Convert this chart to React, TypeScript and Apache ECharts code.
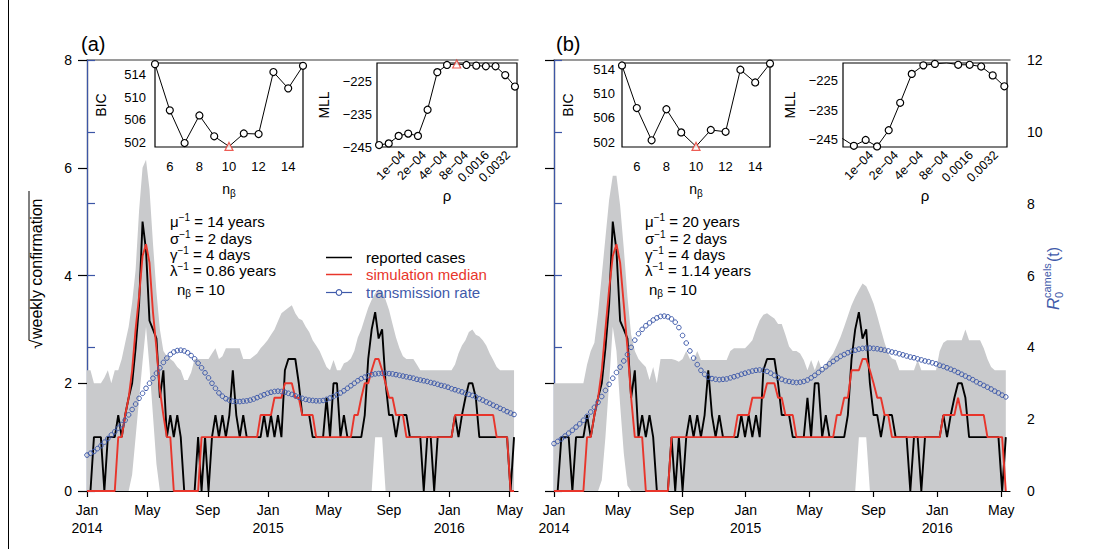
import React, { useEffect, useRef } from "react";
import * as echarts from "echarts";

const FONT = '"Liberation Sans", Arial, Helvetica, sans-serif';
const BLACK = "#000000";
const RED = "#e8352b";
const BLUE = "#3f5aaa";
const BLUE_AXIS = "#3c56a6";
const GRAY = "#c9cacc";

// ---- time axis (months since Jan 2014) ----
const monthTicks = [0, 4, 8, 12, 16, 20, 24, 28];
const monthLabels = ["Jan\n2014", "May", "Sep", "Jan\n2015", "May", "Sep", "Jan\n2016", "May"];

// ---- weekly series (sqrt of weekly confirmations), week 0 = first week of Jan 2014 ----
const reported = [
  0, 0, 1, 1, 1, 0, 1, 1, 1, 1.41,
  1, 1.41, 1.73, 2, 2.65, 3.46, 5, 4.47, 3.16, 3,
  2.83, 1.73, 2.24, 1, 1.41, 1, 1.41, 1, 0, 0,
  0, 0, 1, 0, 1, 0, 1, 1.41, 1, 1.41,
  1, 1.41, 2.24, 1.41, 1, 1.41, 1, 1, 1, 1,
  1, 1.41, 1, 1.41, 1, 1.41, 1, 2.24, 2.45, 2.45,
  2.45, 2, 1.41, 1.41, 1.41, 1, 1, 1, 1, 1.73,
  1, 2, 2, 1, 1.41, 1, 1, 1, 1, 1,
  1.41, 2.45, 3, 3.32, 2.83, 3, 2, 1.41, 1.41, 1,
  1.41, 1.41, 1.41, 1, 1, 1, 1, 0, 1, 1,
  0, 1, 1, 1, 1, 1, 1.41, 1, 1.41, 1.73,
  2, 2, 1.73, 1, 1, 1, 1, 1, 1, 1,
  1, 1, 0, 1,
];

const medianA = [
  0, 0, 0, 0, 0, 0, 0, 0, 0, 1,
  1, 1.41, 1.73, 2.24, 3, 3.61, 4.36, 4.58, 4.24, 3.32,
  2.65, 1.87, 1.41, 1, 1, 0, 0, 0, 0, 0,
  0, 0, 0, 1, 1, 1, 1, 1, 1, 1,
  1, 1, 1, 1, 1, 1, 1, 1, 1, 1,
  1.41, 1.41, 1.41, 1.41, 1.73, 1.73, 1.73, 2, 2, 2,
  1.73, 1.73, 1.41, 1.41, 1.41, 1.41, 1, 1, 1, 1,
  1, 1, 1, 1, 1, 1, 1, 1.41, 1.41, 1.73,
  2, 2, 2.24, 2.45, 2.45, 2.24, 2, 1.73, 1.73, 1.41,
  1.41, 1.41, 1, 1, 1, 1, 1, 1, 1, 1,
  1, 1, 1, 1, 1, 1, 1.41, 1.41, 1.41, 1.41,
  1.41, 1.41, 1.41, 1.41, 1.41, 1.41, 1.41, 1.41, 1, 1,
  1, 1, 0, 0,
];

const medianB = [
  0, 0, 0, 0, 0, 0, 0, 0, 0, 1,
  1, 1.41, 1.73, 2.24, 3, 3.74, 4.36, 4.58, 4.24, 3.46,
  2.65, 1.73, 1, 1, 1, 0, 0, 0, 0, 0,
  0, 0, 1, 1, 1, 1, 1, 1, 1, 1,
  1, 1, 1, 1, 1, 1, 1, 1, 1, 1,
  1.41, 1.41, 1.41, 1.41, 1.73, 1.73, 1.73, 1.73, 2, 2,
  2, 1.73, 1.73, 1.41, 1.41, 1.41, 1, 1, 1, 1,
  1, 1, 1, 1, 1, 1, 1, 1.41, 1.41, 1.73,
  1.73, 2.24, 2.24, 2.24, 2.45, 2.45, 2.24, 2, 1.73, 1.73,
  1.41, 1.41, 1, 1, 1, 1, 1, 1, 1, 1,
  1, 1, 1, 1, 1, 1, 1.41, 1.41, 1.41, 1.41,
  1.73, 1.41, 1.41, 1.41, 1.41, 1.41, 1.41, 1.41, 1, 1,
  1, 1, 1, 0,
];

const upperA = [
  2.24, 2.24, 2, 2, 2, 2.1, 2.24, 2, 2.24, 2.24,
  2.45, 2.75, 3.05, 3.5, 4.1, 5.2, 6.0, 6.15, 5.6, 4.6,
  3.7, 3.0, 2.6, 2.5, 2.45, 2.4, 2.3, 2.24, 2.06, 2.06,
  2.2, 2.45, 2.45, 2.45, 2.45, 2.45, 2.55, 2.65, 2.45, 2.5,
  2.65, 2.65, 2.65, 2.65, 2.65, 2.45, 2.45, 2.45, 2.5, 2.55,
  2.65, 2.72, 2.8, 2.9, 3.0, 3.15, 3.3, 3.35, 3.4, 3.45,
  3.3, 3.2, 3.17, 3.05, 2.95, 2.8, 2.7, 2.6, 2.45, 2.3,
  2.24, 2.43, 2.24, 2.24, 2.37, 2.4, 2.46, 2.6, 2.85, 3.0,
  3.2, 3.4, 3.55, 3.67, 3.74, 3.7, 3.55, 3.36, 3.1, 2.85,
  2.65, 2.5, 2.45, 2.45, 2.45, 2.35, 2.24, 2.24, 2.24, 2.24,
  2.24, 2.24, 2.24, 2.24, 2.24, 2.24, 2.35, 2.55, 2.7, 2.8,
  2.95, 3.0, 2.9, 2.87, 2.8, 2.7, 2.55, 2.43, 2.3, 2.24,
  2.24, 2.24, 2.24, 2.24,
];

const lowerA = [
  0, 0, 0, 0, 0, 0, 0, 0, 0, 0,
  0, 0, 0, 0.3, 1.0, 1.7, 2.4, 3.05, 2.3, 1.4,
  0.5, 0, 0, 0, 0, 0, 0, 0, 0, 0,
  0, 0, 0, 0, 0, 0, 0, 0, 0, 0,
  0, 0, 0, 0, 0, 0, 0, 0, 0, 0,
  0, 0, 0, 0, 0, 0, 0, 0, 0, 0,
  0, 0, 0, 0, 0, 0, 0, 0, 0, 0,
  0, 0, 0, 0, 0, 0, 0, 0, 0, 0,
  0, 0, 0, 1, 1, 1, 0, 0, 0, 0,
  0, 0, 0, 0, 0, 0, 0, 0, 0, 0,
  0, 0, 0, 0, 0, 0, 0, 0, 0, 0,
  0, 0, 0, 0, 0, 0, 0, 0, 0, 0,
  0, 0, 0, 0,
];

const upperB = [
  2, 2, 2, 2, 2, 2, 2, 2, 2, 2.35,
  2.6, 2.75, 3.3, 4.0, 4.7, 5.4, 5.85, 5.85, 5.3, 4.5,
  3.6, 2.9, 2.6, 2.45, 2.37, 2.3, 2.06, 2.3, 2.0, 2.45,
  2.45, 2.45, 2.45, 2.43, 2.4, 2.45, 2.6, 2.45, 2.43, 2.6,
  2.43, 2.43, 2.43, 2.43, 2.43, 2.43, 2.43, 2.43, 2.6, 2.65,
  2.65, 2.65, 2.65, 2.72, 2.8, 3.0, 3.17, 3.27, 3.3, 3.25,
  3.2, 3.1, 3.1, 2.9, 2.68, 2.6, 2.6, 2.55, 2.43, 2.24,
  2.43, 2.24, 2.43, 2.24, 2.35, 2.46, 2.55, 2.7, 2.86, 3.05,
  3.25, 3.45, 3.6, 3.73, 3.85, 3.8, 3.65, 3.48, 3.25, 3.0,
  2.75, 2.55, 2.46, 2.43, 2.24, 2.24, 2.24, 2.24, 2.24, 2.43,
  2.24, 2.24, 2.24, 2.24, 2.24, 2.6, 2.75, 2.8, 2.8, 2.8,
  2.8, 2.8, 3.0, 2.8, 2.8, 2.8, 2.8, 2.65, 2.45, 2.3,
  2.24, 2.24, 2.24, 2.24,
];

const lowerB = [
  0, 0, 0, 0, 0, 0, 0, 0, 0, 0,
  0, 0, 0, 0.2, 1.0, 2.0, 3.05, 2.6, 1.6, 0.7,
  0.1, 0, 0, 0, 0, 0, 0, 0, 0, 0,
  0, 0, 0, 0, 0, 0, 0, 0, 0, 0,
  0, 0, 0, 0, 0, 0, 0, 0, 0, 0,
  0, 0, 0, 0, 0, 0, 0, 0, 0, 0,
  0, 0, 0, 0, 0, 0, 0, 0, 0, 0,
  0, 0, 0, 0, 0, 0, 0, 0, 0, 0,
  0, 0, 0, 1, 1, 1, 0, 0, 0, 0,
  0, 0, 0, 0, 0, 0, 0, 0, 0, 0,
  0, 0, 0, 0, 0, 0, 0, 0, 0, 0,
  0, 0, 0, 0, 0, 0, 0, 0, 0, 0,
  0, 0, 0, 0,
];

// transmission rate R0(t), right axis
const rateA = [
  1.0, 1.05, 1.1, 1.18, 1.26, 1.36, 1.46, 1.56, 1.65, 1.75,
  1.85, 1.97, 2.12, 2.27, 2.42, 2.58, 2.72, 2.86, 3.0, 3.14,
  3.28, 3.43, 3.58, 3.7, 3.8, 3.87, 3.91, 3.92, 3.9, 3.85,
  3.77, 3.68, 3.56, 3.43, 3.29, 3.15, 3.0, 2.86, 2.73, 2.64,
  2.57, 2.53, 2.5, 2.49, 2.49, 2.5, 2.51, 2.53, 2.56, 2.6,
  2.64, 2.68, 2.72, 2.75, 2.77, 2.78, 2.77, 2.75, 2.72, 2.69,
  2.65, 2.61, 2.58, 2.55, 2.53, 2.52, 2.51, 2.51, 2.52, 2.55,
  2.59, 2.63, 2.68, 2.73, 2.79, 2.86, 2.93, 3.0, 3.07, 3.13,
  3.17, 3.21, 3.24, 3.26, 3.27, 3.28, 3.28, 3.27, 3.26, 3.24,
  3.22, 3.2, 3.18, 3.16, 3.14, 3.11, 3.09, 3.07, 3.05, 3.02,
  3.0, 2.97, 2.94, 2.92, 2.89, 2.85, 2.82, 2.79, 2.76, 2.72,
  2.69, 2.66, 2.62, 2.57, 2.53, 2.48, 2.44, 2.39, 2.35, 2.3,
  2.26, 2.21, 2.17, 2.13,
];

const rateB = [
  1.32, 1.38, 1.45, 1.53, 1.61, 1.69, 1.78, 1.87, 1.97, 2.08,
  2.2, 2.33, 2.47, 2.63, 2.8, 2.97, 3.14, 3.3, 3.45, 3.62,
  3.8, 4.0, 4.2, 4.38, 4.5, 4.6, 4.68, 4.76, 4.82, 4.86,
  4.87, 4.85, 4.79, 4.7, 4.55, 4.33, 4.12, 3.9, 3.7, 3.52,
  3.36, 3.25, 3.17, 3.13, 3.11, 3.1, 3.11, 3.12, 3.15, 3.18,
  3.21, 3.25, 3.28, 3.31, 3.34, 3.36, 3.37, 3.36, 3.33, 3.28,
  3.22, 3.16, 3.11, 3.07, 3.05, 3.03, 3.02, 3.03, 3.05, 3.09,
  3.15, 3.22, 3.3, 3.38, 3.46, 3.54, 3.61, 3.68, 3.75, 3.8,
  3.85, 3.89, 3.92, 3.95, 3.97, 3.98, 3.98, 3.97, 3.96, 3.94,
  3.92, 3.9, 3.87, 3.85, 3.82, 3.79, 3.76, 3.73, 3.71, 3.68,
  3.65, 3.62, 3.6, 3.57, 3.54, 3.5, 3.47, 3.43, 3.39, 3.35,
  3.3, 3.25, 3.2, 3.15, 3.1, 3.04, 2.99, 2.94, 2.89, 2.84,
  2.78, 2.73, 2.67, 2.62,
];

// ---- insets ----
const nBeta = [5, 6, 7, 8, 9, 10, 11, 12, 13, 14, 15];
const bicA = [515.9, 507.7, 501.9, 506.8, 503.1, 501.3, 503.6, 503.5, 514.5, 511.6, 515.6];
const bicB = [514.6, 507.6, 502.3, 507.4, 503.6, 501.3, 504.0, 503.7, 513.9, 511.8, 514.9];
const bicTicks = [502, 506, 510, 514];
const nBetaTicks = [6, 8, 10, 12, 14];
const bestNBetaIdx = 5;

const rho = [4.5e-5, 6.2e-5, 8.6e-5, 1.18e-4, 1.63e-4, 2.24e-4, 3.09e-4, 4.26e-4, 5.87e-4, 8.1e-4, 1.12e-3, 1.54e-3, 2.12e-3, 2.92e-3, 4.03e-3];
const mllA = [-244.4, -243.9, -241.6, -240.9, -241.6, -233.6, -222.1, -219.9, -219.6, -219.9, -220.1, -220.3, -220.3, -223.0, -226.5];
const mllB = [-244.6, -247.1, -245.1, -247.3, -241.8, -232.5, -222.7, -219.8, -219.3, -218.9, -219.6, -219.6, -220.2, -223.2, -226.9];
const bestRhoIdxA = 8;
const bestRhoIdxB = 9;
const rhoTickLabels = ["1e\u221204", "2e\u221204", "4e\u221204", "8e\u221204", "0.0016", "0.0032"];
const mllTicks = [-245, -235, -225];

// ---- annotation text ----
const paramSymbols = ["\u03bc", "\u03c3", "\u03b3", "\u03bb"];
const paramValuesA = ["14 years", "2 days", "4 days", "0.86 years"];
const paramValuesB = ["20 years", "2 days", "4 days", "1.14 years"];
const chosenNBeta = 10;
const legendNames = ["reported cases", "simulation median", "transmission rate"];

const DAYS_PER_MONTH = 30.4375;
const wk = (i: number) => (i * 7) / DAYS_PER_MONTH;
const pts = (arr: number[]) => arr.map((v, i) => [wk(i), v]);
const rhoX = (r: number) => Math.log2(r / 1e-4);
const near = (v: number, list: number[]) => list.findIndex((t) => Math.abs(t - v) < 1e-6);

function mainAxes(gridIndex: number, showLeftLabels: boolean, showRightLabels: boolean) {
  const x = [
    {
      gridIndex,
      type: "value",
      min: 0,
      max: 28.55,
      position: "bottom",
      axisLine: { show: true, onZero: false, lineStyle: { color: BLACK, width: 1.2 } },
      axisTick: { show: true, length: 6, customValues: monthTicks, lineStyle: { color: BLACK, width: 1.2 } },
      axisLabel: {
        customValues: monthTicks,
        fontSize: 14,
        lineHeight: 18,
        color: BLACK,
        margin: 10,
        fontFamily: FONT,
        formatter: (v: number) => monthLabels[Math.round(v / 4)] ?? "",
      },
      splitLine: { show: false },
    },
    {
      gridIndex,
      type: "value",
      min: 0,
      max: 28.55,
      position: "top",
      axisLine: { show: true, onZero: false, lineStyle: { color: "#7a7a7a", width: 1.5 } },
      axisTick: { show: false },
      axisLabel: { show: false },
      splitLine: { show: false },
    },
  ];
  const y = [
    {
      gridIndex,
      type: "value",
      min: 0,
      max: 8,
      interval: 2,
      position: "left",
      axisLine: { show: true, lineStyle: { color: BLACK, width: 1.2 } },
      axisTick: { show: true, length: 9, lineStyle: { color: BLACK, width: 1.2 } },
      axisLabel: { show: showLeftLabels, fontSize: 14, color: BLACK, margin: 15, fontFamily: FONT },
      splitLine: { show: false },
    },
    {
      gridIndex,
      type: "value",
      min: 0,
      max: 12,
      interval: 2,
      position: "right",
      axisLine: { show: true, lineStyle: { color: BLUE_AXIS, width: 1.2 } },
      axisTick: { show: true, length: 8, lineStyle: { color: BLUE_AXIS, width: 1.2 } },
      axisLabel: { show: showRightLabels, fontSize: 14, color: BLACK, margin: 17, fontFamily: FONT },
      splitLine: { show: false },
    },
  ];
  return { x, y };
}

function bandSeries(xi: number, yi: number, upper: number[], lower: number[]) {
  return {
    type: "custom",
    xAxisIndex: xi,
    yAxisIndex: yi,
    data: upper.map((v, i) => [wk(i), v, lower[i]]),
    encode: { x: 0, y: [1, 2] },
    clip: true,
    silent: true,
    z: 1,
    renderItem: (params: any, api: any) => {
      if (params.dataIndex !== 0) return null;
      const top = upper.map((v, i) => api.coord([wk(i), v]));
      const bottom = lower.map((v, i) => api.coord([wk(i), v])).reverse();
      return {
        type: "polygon",
        shape: { points: top.concat(bottom) },
        style: { fill: GRAY, stroke: "none" },
      };
    },
  };
}

function mainSeries(xi: number, yl: number, yr: number, median: number[], upper: number[], lower: number[], rate: number[]) {
  return [
    bandSeries(xi, yl, upper, lower),
    {
      name: legendNames[0],
      type: "line",
      xAxisIndex: xi,
      yAxisIndex: yl,
      data: pts(reported),
      symbol: "none",
      lineStyle: { color: BLACK, width: 1.9 },
      itemStyle: { color: BLACK },
      silent: true,
      z: 2,
    },
    {
      name: legendNames[1],
      type: "line",
      xAxisIndex: xi,
      yAxisIndex: yl,
      data: pts(median),
      symbol: "none",
      lineStyle: { color: RED, width: 1.9 },
      itemStyle: { color: RED },
      silent: true,
      z: 3,
    },
    {
      name: legendNames[2],
      type: "line",
      xAxisIndex: xi,
      yAxisIndex: yr,
      data: pts(rate),
      symbol: "circle",
      symbolSize: 4.6,
      showSymbol: true,
      lineStyle: { opacity: 0, width: 0, color: BLUE },
      itemStyle: { color: "rgba(255,255,255,0)", borderColor: BLUE, borderWidth: 1 },
      silent: true,
      z: 4,
    },
  ];
}

function insetGrid(left: number, width: number) {
  return { left, top: 63, width, height: 84, show: true, borderColor: BLACK, borderWidth: 1.2, backgroundColor: "rgba(0,0,0,0)" };
}

const nameRich = {
  n: { fontSize: 14, lineHeight: 18, fontFamily: FONT, color: BLACK },
  b: { fontSize: 10, lineHeight: 10, verticalAlign: "bottom", fontFamily: FONT, color: BLACK },
};

function bicAxes(gridIndex: number, ymin: number, ymax: number, ymargin: number) {
  return {
    x: {
      gridIndex,
      type: "value",
      min: 5,
      max: 15,
      interval: 1,
      axisLine: { show: false },
      axisTick: { show: false },
      axisLabel: {
        interval: 0,
        hideOverlap: false,
        showMinLabel: true,
        showMaxLabel: true,
        fontSize: 13,
        color: BLACK,
        margin: 13,
        fontFamily: FONT,
        formatter: (v: number) => (near(v, nBetaTicks) >= 0 ? String(Math.round(v)) : ""),
      },
      splitLine: { show: false },
      name: "{n|n}{b|\u03b2}",
      nameLocation: "middle",
      nameGap: 33,
      nameTextStyle: { rich: nameRich },
    },
    y: {
      gridIndex,
      type: "value",
      min: ymin,
      max: ymax,
      axisLine: { show: false },
      axisTick: { show: false },
      axisLabel: { customValues: bicTicks, fontSize: 13, color: BLACK, margin: ymargin, fontFamily: FONT },
      splitLine: { show: false },
      name: "BIC",
      nameLocation: "middle",
      nameRotate: 90,
      nameGap: 47,
      nameTextStyle: { fontSize: 14, color: BLACK, fontFamily: FONT },
    },
  };
}

function mllAxes(gridIndex: number, xmin: number, xstep: number, xmax: number, ymin: number, ystep: number, ymax: number) {
  return {
    x: {
      gridIndex,
      type: "value",
      min: xmin,
      max: xmax,
      interval: xstep,
      axisLine: { show: false },
      axisTick: { show: false },
      axisLabel: {
        interval: 0,
        hideOverlap: false,
        rotate: 45,
        fontSize: 12.5,
        color: BLACK,
        margin: 6,
        fontFamily: FONT,
        formatter: (v: number) => {
          const r = Math.round(v);
          return Math.abs(v - r) < 1e-6 ? rhoTickLabels[r] ?? "" : "";
        },
      },
      splitLine: { show: false },
      name: "\u03c1",
      nameLocation: "middle",
      nameGap: 34,
      nameTextStyle: { fontSize: 15, color: BLACK, fontFamily: FONT },
    },
    y: {
      gridIndex,
      type: "value",
      min: ymin,
      max: ymax,
      interval: ystep,
      axisLine: { show: false },
      axisTick: { show: false },
      axisLabel: {
        interval: 0,
        hideOverlap: false,
        showMinLabel: true,
        fontSize: 13,
        color: BLACK,
        margin: 5,
        fontFamily: FONT,
        formatter: (v: number) => (near(v, mllTicks) >= 0 ? String(Math.round(v)).replace("-", "\u2212") : ""),
      },
      splitLine: { show: false },
      name: "MLL",
      nameLocation: "middle",
      nameRotate: 90,
      nameGap: 46,
      nameTextStyle: { fontSize: 14, color: BLACK, fontFamily: FONT },
    },
  };
}

function insetSeries(xi: number, yi: number, xs: number[], ys: number[], bestIdx: number) {
  return [
    {
      type: "line",
      xAxisIndex: xi,
      yAxisIndex: yi,
      data: xs.map((x, i) => (i === bestIdx ? { value: [x, ys[i]], symbol: "none" } : { value: [x, ys[i]] })),
      symbol: "circle",
      symbolSize: 7,
      showSymbol: true,
      lineStyle: { color: BLACK, width: 1 },
      itemStyle: { color: "#ffffff", borderColor: BLACK, borderWidth: 1.2 },
      silent: true,
      z: 5,
    },
    {
      type: "scatter",
      xAxisIndex: xi,
      yAxisIndex: yi,
      data: [[xs[bestIdx], ys[bestIdx]]],
      symbol: "triangle",
      symbolSize: 8,
      itemStyle: { color: "#ffffff", borderColor: RED, borderWidth: 1.2 },
      silent: true,
      z: 6,
    },
  ];
}

const paramRich = {
  m: { fontSize: 15, lineHeight: 18, fontFamily: FONT, fill: BLACK, color: BLACK },
  s: { fontSize: 10, lineHeight: 10, verticalAlign: "top", fontFamily: FONT, fill: BLACK, color: BLACK },
  b: { fontSize: 10, lineHeight: 10, verticalAlign: "bottom", fontFamily: FONT, fill: BLACK, color: BLACK },
};

function paramTexts(x: number, xn: number, values: string[]) {
  const rows = [221.5, 238, 254, 270];
  const els: any[] = values.map((val, i) => ({
    type: "text",
    x,
    y: rows[i],
    silent: true,
    z: 50,
    style: {
      text: `{m|${paramSymbols[i]}}{s|\u22121}{m| = ${val}}`,
      rich: paramRich,
      fill: BLACK,
      fontSize: 15,
      fontFamily: FONT,
      verticalAlign: "middle",
      align: "left",
    },
  }));
  els.push({
    type: "text",
    x: xn,
    y: 289,
    silent: true,
    z: 50,
    style: {
      text: `{m|n}{b|\u03b2}{m| = ${chosenNBeta}}`,
      rich: paramRich,
      fill: BLACK,
      fontSize: 15,
      fontFamily: FONT,
      verticalAlign: "middle",
      align: "left",
    },
  });
  return els;
}

function legendGraphics() {
  const x0 = 326;
  const x1 = 352;
  const tx = 366;
  const rows = [257.5, 274.5, 292.5];
  const colors = [BLACK, RED, BLUE];
  const els: any[] = [];
  rows.forEach((y, i) => {
    els.push({ type: "line", silent: true, z: 50, shape: { x1: x0, y1: y, x2: x1, y2: y }, style: { stroke: colors[i], lineWidth: i === 2 ? 1.2 : 1.5 } });
    els.push({
      type: "text",
      silent: true,
      z: 50,
      x: tx,
      y,
      style: { text: legendNames[i], fill: colors[i], fontSize: 15, fontFamily: FONT, verticalAlign: "middle", align: "left" },
    });
  });
  els.push({ type: "circle", silent: true, z: 51, shape: { cx: (x0 + x1) / 2, cy: rows[2], r: 2.8 }, style: { fill: "#ffffff", stroke: BLUE, lineWidth: 1.1 } });
  return els;
}

function buildOption() {
  const A = mainAxes(0, true, false);
  const B = mainAxes(1, false, true);
  const bA = bicAxes(2, 501.2, 516.1, 9);
  const mA = mllAxes(3, -1.25, 0.25, 5.43, -245.0, 5, -219.3);
  const bB = bicAxes(4, 501.2, 515.0, 7);
  const mB = mllAxes(5, -1.125, 0.125, 5.44, -247.5, 2.5, -219.0);
  const rhoXs = rho.map(rhoX);

  return {
    animation: false,
    backgroundColor: "#ffffff",
    textStyle: { fontFamily: FONT },
    title: [
      { text: "(a)", left: 76, top: 29, textStyle: { fontSize: 20, fontWeight: "normal", color: BLACK, fontFamily: FONT } },
      { text: "(b)", left: 551, top: 29, textStyle: { fontSize: 20, fontWeight: "normal", color: BLACK, fontFamily: FONT } },
    ],
    grid: [
      { left: 87, top: 60, width: 431, height: 431, show: false },
      { left: 554, top: 60, width: 456, height: 431, show: false },
      insetGrid(155, 148),
      insetGrid(377, 140),
      insetGrid(622, 148),
      insetGrid(843, 164),
    ],
    xAxis: [A.x[0], A.x[1], B.x[0], B.x[1], bA.x, mA.x, bB.x, mB.x],
    yAxis: [A.y[0], A.y[1], B.y[0], B.y[1], bA.y, mA.y, bB.y, mB.y],
    series: [
      ...mainSeries(0, 0, 1, medianA, upperA, lowerA, rateA),
      ...mainSeries(2, 2, 3, medianB, upperB, lowerB, rateB),
      ...insetSeries(4, 4, nBeta, bicA, bestNBetaIdx),
      ...insetSeries(5, 5, rhoXs, mllA, bestRhoIdxA),
      ...insetSeries(6, 6, nBeta, bicB, bestNBetaIdx),
      ...insetSeries(7, 7, rhoXs, mllB, bestRhoIdxB),
    ],
    graphic: [
      { type: "line", silent: true, shape: { x1: 8.5, y1: 0, x2: 8.5, y2: 549 }, style: { stroke: BLACK, lineWidth: 1 } },
      ...paramTexts(170, 177, paramValuesA),
      ...paramTexts(645, 649, paramValuesB),
      ...legendGraphics(),
      {
        type: "group",
        x: 45,
        y: 349,
        rotation: Math.PI / 2,
        silent: true,
        children: [
          { type: "text", x: 0, y: 0, style: { text: "\u221a", fontSize: 17, fill: BLACK, fontFamily: FONT, verticalAlign: "bottom", align: "left" } },
          { type: "text", x: 10, y: -1, style: { text: "weekly confirmation", fontSize: 16, fill: BLACK, fontFamily: FONT, verticalAlign: "bottom", align: "left" } },
          { type: "line", shape: { x1: 9, y1: -16, x2: 158, y2: -16 }, style: { stroke: BLACK, lineWidth: 1 } },
        ],
      },
      {
        type: "group",
        x: 1053,
        y: 310,
        rotation: Math.PI / 2,
        silent: true,
        children: [
          { type: "text", x: 0, y: 0, style: { text: "R", fontSize: 17, fontStyle: "italic", fill: BLUE, fontFamily: FONT, verticalAlign: "middle", align: "left" } },
          { type: "text", x: 12, y: -6, style: { text: "camels", fontSize: 11, fill: BLUE, fontFamily: FONT, verticalAlign: "middle", align: "left" } },
          { type: "text", x: 12, y: 6, style: { text: "0", fontSize: 11, fill: BLUE, fontFamily: FONT, verticalAlign: "middle", align: "left" } },
          { type: "text", x: 48, y: 0, style: { text: "(t)", fontSize: 16, fill: BLUE, fontFamily: FONT, verticalAlign: "middle", align: "left" } },
        ],
      },
    ],
  };
}

export default function App() {
  const ref = useRef<HTMLDivElement>(null);
  useEffect(() => {
    if (!ref.current) return;
    const chart = echarts.init(ref.current, null, { renderer: "svg" });
    chart.setOption(buildOption() as any);
    return () => {
      chart.dispose();
    };
  }, []);
  return (
    <div
      ref={ref}
      style={{ position: "fixed", left: 0, top: 0, width: 1094, height: 549, background: "#ffffff" }}
    />
  );
}
